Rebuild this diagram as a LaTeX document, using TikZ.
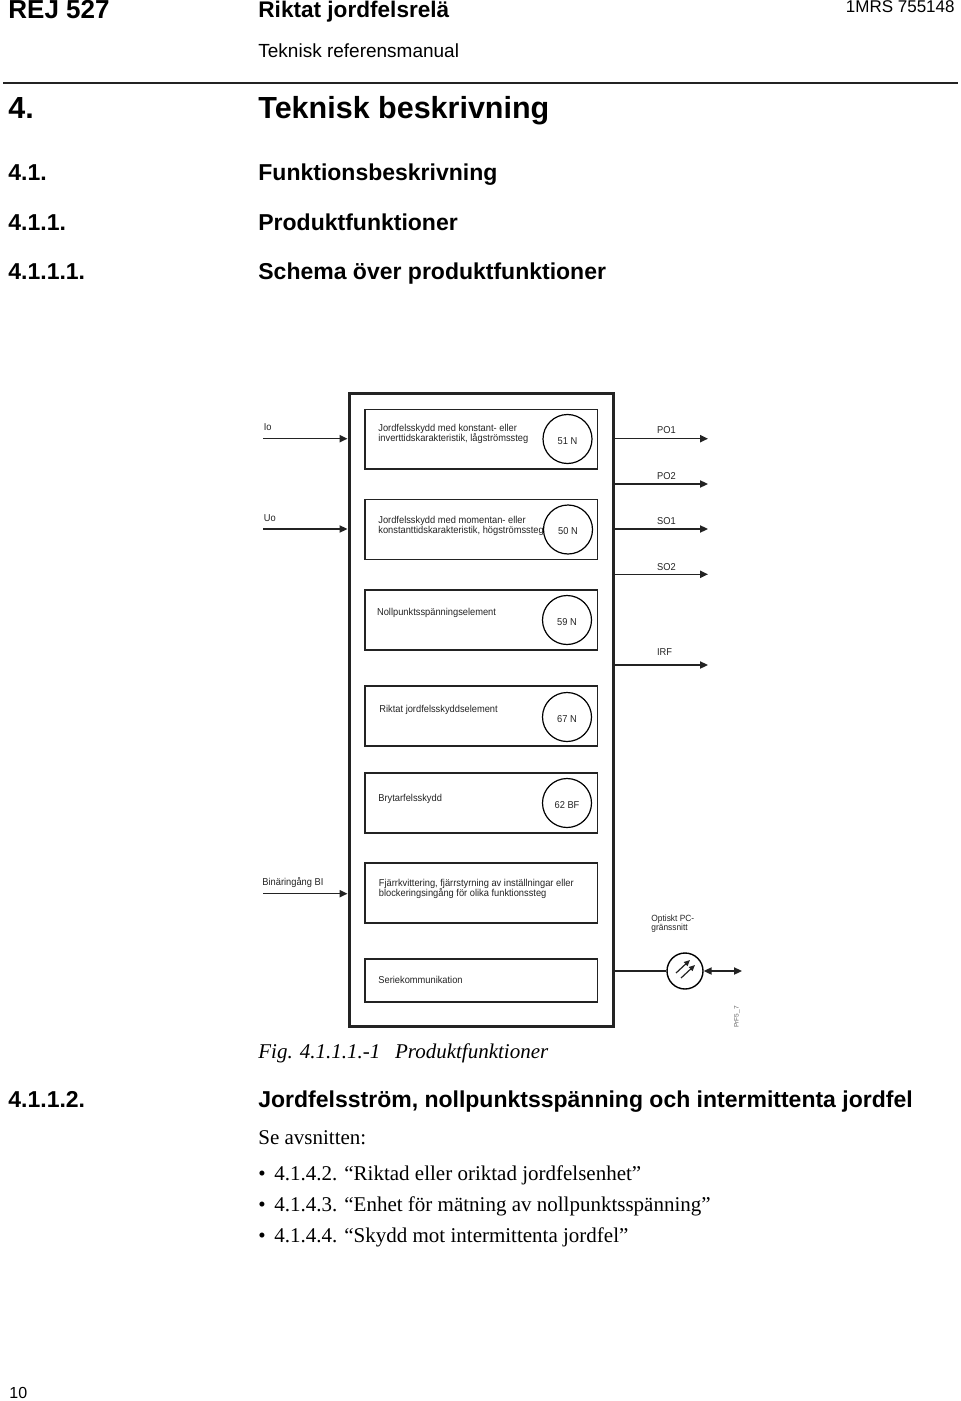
\documentclass[tikz,border=0pt]{standalone}
\usepackage{fontspec}
\setmainfont{Liberation Serif}
\setsansfont{Liberation Sans}
\newfontfamily\diagramfont[FakeStretch=0.93]{Liberation Sans}
\usepackage{tikz}
\usetikzlibrary{arrows.meta,calc}
\definecolor{diagramink}{RGB}{35,35,35}
\lineskiplimit=-10pt
\tikzset{
    pagetext/.style={anchor=base west, inner sep=0pt, font=\sffamily\bfseries\fontsize{11.5}{14}\selectfont},
    bodytext/.style={anchor=base west, inner sep=0pt, font=\rmfamily\fontsize{10.5}{13}\selectfont},
    smalltext/.style={anchor=west, inner sep=0pt, align=left, text=diagramink, font=\diagramfont\fontsize{5}{5}\selectfont},
    framebox/.style={draw=diagramink, line width=1.5pt, inner sep=0pt, minimum width=132pt, minimum height=316.8pt},
    elembox/.style={draw=diagramink, line width=0.6pt, inner sep=0pt, minimum width=116.4pt},
    relaycircle/.style={circle, draw=black, line width=0.6pt, inner sep=0pt, minimum size=24.5pt, text height=5.5pt, text=diagramink, font=\diagramfont\fontsize{5}{5}\selectfont},
    signal/.style={draw=diagramink, line width=0.75pt, >={Triangle[length=4pt,width=3.6pt]}}
}
\begin{document}
\begin{tikzpicture}[x=0.5pt, y=-0.5pt]
    \useasboundingbox (0,0) rectangle (960,1401);

    % Page header
    \node[pagetext, font=\sffamily\bfseries\fontsize{13}{15}\selectfont] (docid) at (8,19) {REJ 527};
    \node[pagetext, font=\sffamily\bfseries\fontsize{11.3}{13}\selectfont] (doctitle) at (258,18) {Riktat jordfelsrelä};
    \node[pagetext, font=\sffamily\fontsize{9.5}{12}\selectfont] (docsub) at (258,58) {Teknisk referensmanual};
    \node[pagetext, anchor=base east, font=\sffamily\fontsize{8.5}{10}\selectfont] (docnum) at (955,13) {1MRS 755148};
    \draw[line width=0.6pt, color=diagramink] (3,83) -- (958,83);

    % Headings
    \node[pagetext, font=\sffamily\bfseries\fontsize{15.25}{18}\selectfont] (secnum) at (8,119) {4.};
    \node[pagetext, font=\sffamily\bfseries\fontsize{15.25}{18}\selectfont] (sectitle) at (258,119) {Teknisk beskrivning};
    \node[pagetext] (subnuma) at (8,181) {4.1.};
    \node[pagetext] (subtitlea) at (258,181) {Funktionsbeskrivning};
    \node[pagetext] (subnumb) at (8,231) {4.1.1.};
    \node[pagetext] (subtitleb) at (258,231) {Produktfunktioner};
    \node[pagetext] (subnumc) at (8,280) {4.1.1.1.};
    \node[pagetext] (subtitlec) at (258,280) {Schema över produktfunktioner};

    % Outer frame
    \node[framebox] (relay) at (481,709.8) {};

    % Function blocks
    \node[elembox, minimum height=29.9pt] (blocka) at (481.4,439) {};
    \node[elembox, minimum height=30.3pt] (blockb) at (481.4,529.4) {};
    \node[elembox, minimum height=30pt] (blockc) at (481.4,620) {};
    \node[elembox, minimum height=30pt] (blockd) at (481.4,716) {};
    \node[elembox, minimum height=30pt] (blocke) at (481.4,803) {};
    \node[elembox, minimum height=30pt] (blockf) at (481.4,893) {};
    \node[elembox, minimum height=21.5pt] (blockg) at (481.4,980.5) {};

    % Block texts
    \node[smalltext] (texta) at (378,434) {Jordfelsskydd med konstant- eller\\inverttidskarakteristik, lågströmssteg};
    \node[smalltext] (textb) at (378,525.7) {Jordfelsskydd med momentan- eller\\konstanttidskarakteristik, högströmssteg};
    \node[smalltext] (textc) at (376.7,612.7) {Nollpunktsspänningselement};
    \node[smalltext] (textd) at (379,709.7) {Riktat jordfelsskyddselement};
    \node[smalltext] (texte) at (378,798.6) {Brytarfelsskydd};
    \node[smalltext] (textf) at (378.5,888.7) {Fjärrkvittering, fjärrstyrning av inställningar eller\\blockeringsingång för olika funktionssteg};
    \node[smalltext] (textg) at (378,980) {Seriekommunikation};

    % Protection symbols
    \node[relaycircle] (ansia) at (567.5,439) {51 N};
    \node[relaycircle] (ansib) at (568,529.5) {50 N};
    \node[relaycircle] (ansic) at (567,620) {59 N};
    \node[relaycircle] (ansid) at (567,717) {67 N};
    \node[relaycircle] (ansie) at (567,803) {62 BF};

    % Inputs
    \coordinate (inio) at (263,438.7);
    \coordinate (inuo) at (263,529);
    \coordinate (inbi) at (263,893.7);
    \draw[signal, ->] (inio) -- (inio -| relay.west);
    \draw[signal, ->] (inuo) -- (inuo -| relay.west);
    \draw[signal, ->] (inbi) -- (inbi -| relay.west);
    \node[smalltext] (labelio) at (263.5,427.5) {Io};
    \node[smalltext] (labeluo) at (263.5,518) {Uo};
    \node[smalltext] (labelbi) at (262,882.5) {Binäringång BI};

    % Outputs
    \coordinate (outpoa) at (708,438.7);
    \coordinate (outpob) at (708,484);
    \coordinate (outsoa) at (708,529);
    \coordinate (outsob) at (708,574.3);
    \coordinate (outirf) at (708,665);
    \draw[signal, ->] (outpoa -| relay.east) -- (outpoa);
    \draw[signal, ->] (outpob -| relay.east) -- (outpob);
    \draw[signal, ->] (outsoa -| relay.east) -- (outsoa);
    \draw[signal, ->] (outsob -| relay.east) -- (outsob);
    \draw[signal, ->] (outirf -| relay.east) -- (outirf);
    \node[smalltext] (labelpoa) at (656.7,430.5) {PO1};
    \node[smalltext] (labelpob) at (656.7,476.5) {PO2};
    \node[smalltext] (labelsoa) at (656.7,521.5) {SO1};
    \node[smalltext] (labelsob) at (656.7,567) {SO2};
    \node[smalltext] (labelirf) at (656.7,652) {IRF};

    % Optical interface
    \node[circle, draw=black, line width=0.7pt, inner sep=0pt, minimum size=18pt] (optic) at (685,971) {};
    \coordinate (optend) at (742,971);
    \draw[signal] (optic) -- (optic -| relay.east);
    \draw[signal, <->] (optic) -- (optend);
    \draw[signal, line width=0.6pt, ->, >={Triangle[length=3pt,width=2.6pt]}] (676,973) -- (690,960);
    \draw[signal, line width=0.6pt, ->, >={Triangle[length=3pt,width=2.6pt]}] (681,978) -- (695,965);
    \node[smalltext, font=\diagramfont\fontsize{4.5}{4.5}\selectfont] (labeloptic) at (651,924) {Optiskt PC-\\gränssnitt};
    \node[smalltext, anchor=center, rotate=90, text=black!60, font=\sffamily\fontsize{3.25}{4}\selectfont] (labelfig) at (737,1017) {PrF5\_7};

    % Caption and following section
    \node[bodytext, font=\rmfamily\itshape\fontsize{10.5}{13}\selectfont] (caption) at (258,1058) {Fig. 4.1.1.1.-1\hspace{0.7em}Produktfunktioner};
    \node[pagetext] (secnext) at (8,1107) {4.1.1.2.};
    \node[pagetext] (sectext) at (258,1107) {Jordfelsström, nollpunktsspänning och intermittenta jordfel};
    \node[bodytext] (seealso) at (258,1144.5) {Se avsnitten:};
    \node[bodytext] (bulleta) at (258,1180) {•};
    \node[bodytext] (itema) at (274,1180) {4.1.4.2. “Riktad eller oriktad jordfelsenhet”};
    \node[bodytext] (bulletb) at (258,1211) {•};
    \node[bodytext] (itemb) at (274,1211) {4.1.4.3. “Enhet för mätning av nollpunktsspänning”};
    \node[bodytext] (bulletc) at (258,1242) {•};
    \node[bodytext] (itemc) at (274,1242) {4.1.4.4. “Skydd mot intermittenta jordfel”};

    % Page number
    \node[pagetext, font=\sffamily\fontsize{8}{10}\selectfont] (pagenum) at (9,1398) {10};
\end{tikzpicture}
\end{document}
